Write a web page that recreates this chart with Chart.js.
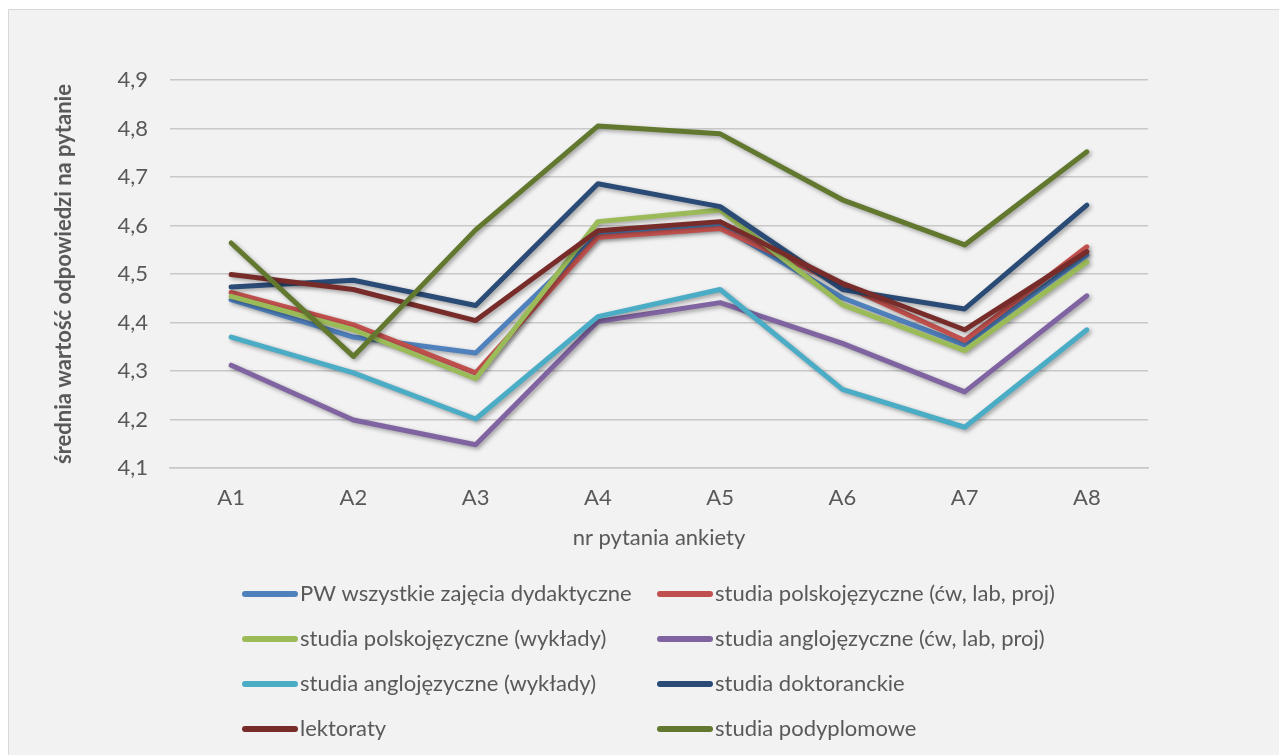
<!DOCTYPE html>
<html>
<head>
<meta charset="utf-8">
<script src="https://cdn.jsdelivr.net/npm/chart.js@4"></script>
<style>
  html, body { margin: 0; padding: 0; background: #fff; }
  #wrap { position: absolute; left: 8px; top: 9px; width: 1271px; height: 746px;
          background: #f2f2f2; border: 1px solid #d9d9d9; border-right: none; border-bottom: none; }
  canvas { display: block; }
</style>
</head>
<body>
<div id="wrap"><canvas id="chart" width="1270" height="745"></canvas></div>
<script>
const FONT = 'Lato, "Open Sans", sans-serif';
const TEXT = '#595959';

const categories = ['A1', 'A2', 'A3', 'A4', 'A5', 'A6', 'A7', 'A8'];
const yTicks = [4.1, 4.2, 4.3, 4.4, 4.5, 4.6, 4.7, 4.8, 4.9];

const seriesNames = [
  'PW wszystkie zajęcia dydaktyczne',
  'studia polskojęzyczne (ćw, lab, proj)',
  'studia polskojęzyczne (wykłady)',
  'studia anglojęzyczne (ćw, lab, proj)',
  'studia anglojęzyczne (wykłady)',
  'studia doktoranckie',
  'lektoraty',
  'studia podyplomowe'
];
const seriesColors = ['#4f81bd', '#c0504d', '#9bbb59', '#8064a2', '#4bacc6', '#2a4b76', '#772c2a', '#62782f'];

const pwAll      = [4.447, 4.370, 4.337, 4.580, 4.600, 4.451, 4.354, 4.539];
const plCw       = [4.462, 4.395, 4.296, 4.576, 4.594, 4.478, 4.363, 4.556];
const plWyk      = [4.454, 4.385, 4.284, 4.608, 4.632, 4.437, 4.342, 4.525];
const enCw       = [4.312, 4.199, 4.148, 4.402, 4.441, 4.357, 4.257, 4.455];
const enWyk      = [4.370, 4.296, 4.201, 4.412, 4.468, 4.262, 4.184, 4.385];
const doktorat   = [4.473, 4.487, 4.435, 4.686, 4.639, 4.468, 4.428, 4.642];
const lektoraty  = [4.499, 4.468, 4.404, 4.589, 4.608, 4.481, 4.385, 4.546];
const podyplom   = [4.564, 4.330, 4.591, 4.805, 4.789, 4.653, 4.560, 4.752];

const seriesValues = [pwAll, plCw, plWyk, enCw, enWyk, doktorat, lektoraty, podyplom];

const datasets = seriesValues.map((vals, i) => ({
  label: seriesNames[i],
  data: vals,
  borderColor: seriesColors[i],
  backgroundColor: seriesColors[i],
  borderWidth: 5,
  borderCapStyle: 'round',
  borderJoinStyle: 'round',
  pointRadius: 0,
  tension: 0,
  order: seriesValues.length - i   // later series on top, like the original
}));

// soft drop shadow under the lines
const shadowPlugin = {
  id: 'lineShadow',
  beforeDatasetsDraw(chart){
    const ctx = chart.ctx;
    ctx.save();
    ctx.shadowColor = 'rgba(0,0,0,0.35)';
    ctx.shadowBlur = 4;
    ctx.shadowOffsetX = 2;
    ctx.shadowOffsetY = 2;
  },
  afterDatasetsDraw(chart){ chart.ctx.restore(); }
};

// two-column legend under the x axis title
const legendPlugin = {
  id: 'twoColLegend',
  afterDraw(chart){
    const ctx = chart.ctx;
    const cols = [233, 648];
    const rows = [584, 629, 674, 719];
    ctx.save();
    ctx.font = '22px ' + FONT;
    ctx.textBaseline = 'middle';
    ctx.textAlign = 'left';
    chart.data.datasets.forEach((ds, i) => {
      const x = cols[i % 2], y = rows[Math.floor(i / 2)];
      ctx.strokeStyle = ds.borderColor;
      ctx.lineWidth = 6;
      ctx.lineCap = 'round';
      ctx.beginPath();
      ctx.moveTo(x + 3, y);
      ctx.lineTo(x + 53, y);
      ctx.stroke();
      ctx.fillStyle = TEXT;
      ctx.fillText(ds.label, x + 58, y);
    });
    ctx.restore();
  }
};

new Chart(document.getElementById('chart'), {
  type: 'line',
  data: { labels: categories, datasets },
  options: {
    responsive: false,
    animation: false,
    layout: { padding: { left: 38, top: 70, right: 131, bottom: 200 } },
    plugins: { legend: { display: false }, tooltip: { enabled: false } },
    scales: {
      x: {
        offset: true,
        grid: { display: false, drawTicks: false },
        border: { display: true, color: '#c8c8c8', width: 1.5 },
        ticks: { color: TEXT, font: { family: FONT, size: 22 }, padding: 17 },
        title: { display: true, text: 'nr pytania ankiety', color: TEXT, font: { family: FONT, size: 22 } },
        afterFit(scale){ scale.height = 87; }
      },
      y: {
        min: yTicks[0],
        max: yTicks[yTicks.length - 1],
        afterBuildTicks(scale){ scale.ticks = yTicks.map(v => ({ value: v })); },
        grid: { color: '#c8c8c8', lineWidth: 1.5, drawTicks: false },
        border: { display: false },
        ticks: {
          color: TEXT, font: { family: FONT, size: 22 }, padding: 22,
          callback: v => v.toFixed(1).replace('.', ',')
        },
        title: { display: true, text: 'średnia wartość odpowiedzi na pytanie', color: TEXT,
                 font: { family: FONT, size: 22, weight: 'bold' } },
        afterFit(scale){ scale.width = 123; }
      }
    }
  },
  plugins: [shadowPlugin, legendPlugin]
});
</script>
</body>
</html>
